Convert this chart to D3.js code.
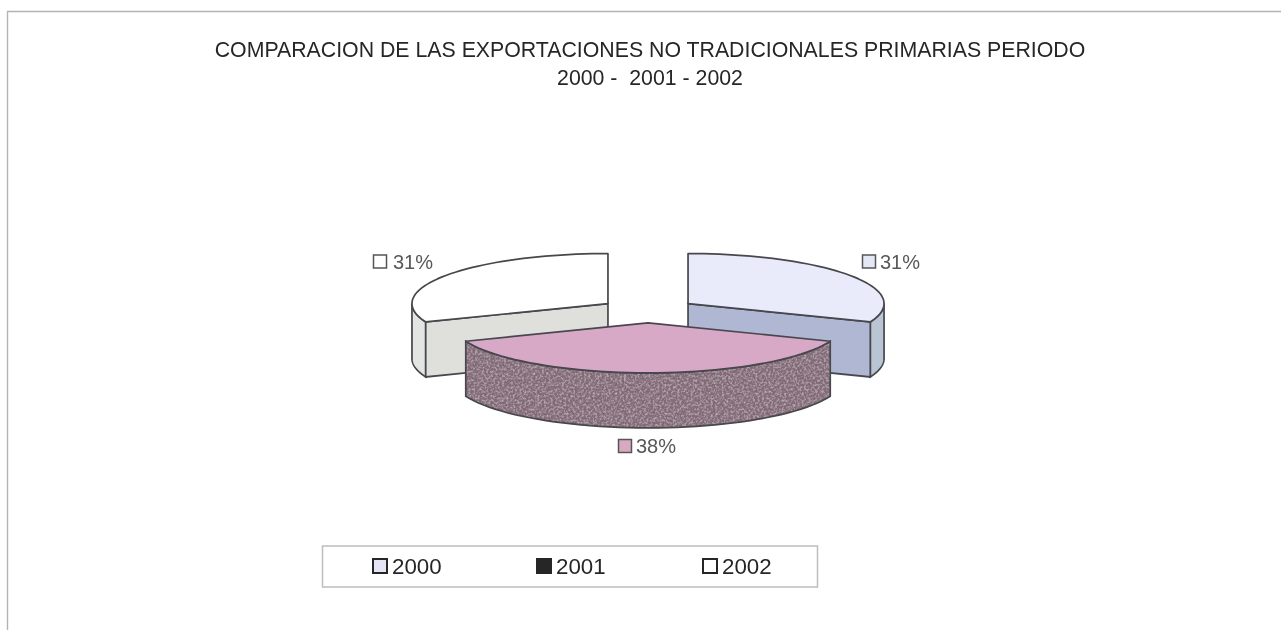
<!DOCTYPE html>
<html><head><meta charset="utf-8">
<script src="https://cdn.jsdelivr.net/npm/d3@7/dist/d3.min.js"></script>
<style>html,body{margin:0;padding:0;background:#fff}svg{display:block}text{font-family:"Liberation Sans",Arial,sans-serif;fill:#262626;white-space:pre}</style>
</head><body><svg id="c" width="1281" height="630"></svg>
<script>
const categories = ["2000", "2001", "2002"];
const values = [31, 38, 31];
const pctLabels = ["31%", "38%", "31%"];
const titleLines = ["COMPARACION DE LAS EXPORTACIONES NO TRADICIONALES PRIMARIAS PERIODO", "2000 -  2001 - 2002"];
const topFill = ["#e9eafa", "#d8a9c6", "#ffffff"];
const frontFill = ["#b0b7d2", "#806875", "#dfdfdb"];
const rimFill = ["#b9c5d3", "#806875", "#e3e5e3"];
const legendFill = ["#e4e4f6", "#262626", "#ffffff"];
const labelFill = ["#e4e8f4", "#d9a9c0", "#ffffff"];

const svg = d3.select("#c");
const defs = svg.append("defs");
const soft = defs.append("filter").attr("id","soft");
soft.append("feGaussianBlur").attr("stdDeviation",0.5);
const grain = defs.append("filter").attr("id","grain").attr("x",0).attr("y",0).attr("width",1).attr("height",1);
grain.append("feTurbulence").attr("type","fractalNoise").attr("baseFrequency",0.38).attr("numOctaves",2).attr("seed",4).attr("result","n");
grain.append("feColorMatrix").attr("in","n").attr("type","matrix").attr("values","0 0 0 0 0.27  0 0 0 0 0.2  0 0 0 0 0.25  1.4 0 0 0 -0.55").attr("result","d");
grain.append("feTurbulence").attr("type","fractalNoise").attr("baseFrequency",0.45).attr("numOctaves",2).attr("seed",9).attr("result","n2");
grain.append("feColorMatrix").attr("in","n2").attr("type","matrix").attr("values","0 0 0 0 0.72  0 0 0 0 0.62  0 0 0 0 0.67  1.4 0 0 0 -0.6").attr("result","l");
grain.append("feComposite").attr("in","d").attr("in2","SourceAlpha").attr("operator","in").attr("result","d2");
grain.append("feComposite").attr("in","l").attr("in2","SourceAlpha").attr("operator","in").attr("result","l2");
const gm2 = grain.append("feMerge");
gm2.append("feMergeNode").attr("in","SourceGraphic");
gm2.append("feMergeNode").attr("in","d2");
gm2.append("feMergeNode").attr("in","l2");

const root = svg.append("g").attr("filter","url(#soft)");

// frame of the scanned chart
root.append("path").attr("d","M7.5,630V11.5H1281").attr("fill","none").attr("stroke","#b4b4b4").attr("stroke-width",1.4);

root.selectAll("text.title").data(titleLines).join("text").attr("class","title")
  .attr("x",650).attr("y",(d,i)=>57+i*28).attr("text-anchor","middle").attr("font-size",21.3).text(d=>d);

const cx=648, cy=310.5, rx=196, ry=50, depth=55, explode=0.247;
const arcs = d3.pie().sort(null).value(d=>d)(values);
const stroke="#47474d", sw=1.7;
const pt=(a,r,off,o)=>[o[0]+r*rx*Math.sin(a), o[1]-r*ry*Math.cos(a)+off];
const line=d3.line();
const sample=(a0,a1,off,o)=>d3.range(0,49).map(k=>pt(a0+(a1-a0)*k/48,1,off,o));

const slices = arcs.map((d,i)=>{
  const mid=(d.startAngle+d.endAngle)/2;
  return {d,i,o:[cx+explode*rx*Math.sin(mid), cy-explode*ry*Math.cos(mid)]};
});
function drawSlice(s){
  const {d,i,o}=s; const g=root.append("g");
  const a0=d.startAngle,a1=d.endAngle;
  // outer wall: only the part of the rim that faces the viewer
  const v0=Math.max(a0,Math.PI/2), v1=Math.min(a1,Math.PI*1.5);
  if(v1>v0){
    const w=[...sample(v0,v1,0,o),...sample(v1,v0,depth,o)];
    const wall=g.append("path").attr("d",line(w)+"Z").attr("fill",rimFill[i]);
    if(i===1) wall.attr("filter","url(#grain)");
    g.append("path").attr("d",line(w)+"Z").attr("fill","none").attr("stroke",stroke).attr("stroke-width",sw);
  }
  // radial wall facing the viewer
  if(i===0){
    g.append("path").attr("d",line([o,pt(a1,1,0,o),pt(a1,1,depth,o),[o[0],o[1]+depth]])+"Z").attr("fill",frontFill[i]).attr("stroke",stroke).attr("stroke-width",sw);
  }
  if(i===2){
    g.append("path").attr("d",line([o,pt(a0,1,0,o),pt(a0,1,depth,o),[o[0],o[1]+depth]])+"Z").attr("fill",frontFill[i]).attr("stroke",stroke).attr("stroke-width",sw);
  }
  g.append("path").attr("d",line([o,...sample(a0,a1,0,o)])+"Z").attr("fill",topFill[i]).attr("stroke",stroke).attr("stroke-width",sw).attr("stroke-linejoin","round");
}
[slices[2],slices[0],slices[1]].forEach(drawSlice);

// percentage labels
const labelAnchors=[[862,261.5],[618,446],[373,261.5]];
categories.forEach((c,i)=>{
  const [x,y]=labelAnchors[i];
  root.append("rect").attr("x",x+.5).attr("y",y-6.5).attr("width",13).attr("height",13).attr("fill",labelFill[i]).attr("stroke","#55555a").attr("stroke-width",1.5);
  root.append("text").attr("x",x+(i===2?20:18)).attr("y",y+7).attr("font-size",20).style("fill","#585858").text(pctLabels[i]);
});

// legend
root.append("rect").attr("x",322.5).attr("y",546).attr("width",495).attr("height",41).attr("fill","#fff").attr("stroke","#bdbdbd").attr("stroke-width",1.5);
const legendX=[373,537,703];
categories.forEach((c,i)=>{
  root.append("rect").attr("x",legendX[i]).attr("y",559).attr("width",14).attr("height",14).attr("fill",legendFill[i]).attr("stroke","#262626").attr("stroke-width",2);
  root.append("text").attr("x",legendX[i]+19).attr("y",573.5).attr("font-size",22.3).text(c);
});
</script></body></html>
